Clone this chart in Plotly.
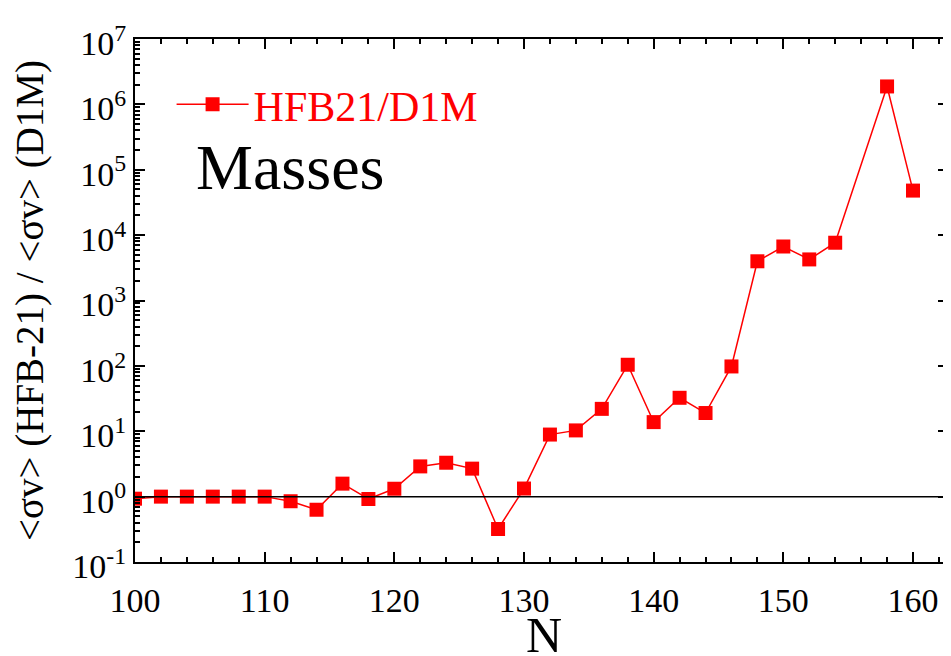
import plotly.graph_objects as go

# Data
N = [100, 102, 104, 106, 108, 110, 112, 114, 116, 118, 120, 122, 124, 126, 128,
     130, 132, 134, 136, 138, 140, 142, 144, 146, 148, 150, 152, 154, 158, 160]
ratio = [0.93, 1.0, 1.0, 1.0, 1.0, 1.0, 0.85, 0.63, 1.58, 0.92, 1.32, 2.9, 3.3, 2.68, 0.32,
         1.33, 8.9, 10.3, 22, 104, 13.8, 32.5, 19, 98, 3980, 6700, 4250, 7650, 1.88e6, 4.8e4]

x_ticks = [100, 110, 120, 130, 140, 150, 160]
y_exponents = [-1, 0, 1, 2, 3, 4, 5, 6, 7]
y_ticktext = ["10<sup>%d</sup>" % e for e in y_exponents]
y_tickvals = [10.0 ** e for e in y_exponents]
y_minor = [k * 10.0 ** e for e in range(-1, 7) for k in range(2, 10)]

FONT = "Liberation Serif, Times New Roman, serif"
RED = "#ff0000"

fig = go.Figure()
fig.add_trace(go.Scatter(
    x=N, y=ratio, mode="lines+markers", name="HFB21/D1M",
    line=dict(color=RED, width=1.5),
    marker=dict(symbol="square", size=14, color=RED),
))

fig.add_shape(type="line", xref="paper", yref="y", x0=0, x1=1, y0=1, y1=1,
              line=dict(color="black", width=1.5))

fig.add_annotation(text="Masses", xref="paper", yref="paper", x=0.072, y=0.755,
                   xanchor="left", yanchor="middle", showarrow=False,
                   font=dict(family=FONT, size=64, color="black"))

fig.add_annotation(text="N", xref="paper", yref="paper", x=0.503, y=-94 / 523,
                   xanchor="center", yanchor="bottom", yshift=-9, showarrow=False,
                   font=dict(family=FONT, size=50, color="black"))

# The page places the figure 8px from the top-left corner of the window,
# so the figure is 8px smaller and its margins are reduced accordingly.
fig.update_layout(
    width=943, height=648,
    margin=dict(l=127, r=3, t=31, b=94),
    paper_bgcolor="white", plot_bgcolor="white",
    font=dict(family=FONT, color="black", size=34),
    showlegend=True,
    legend=dict(x=0.045, y=0.875, xanchor="left", yanchor="middle",
                bgcolor="rgba(0,0,0,0)", itemwidth=72,
                font=dict(family=FONT, size=42, color=RED)),
)

fig.update_xaxes(
    automargin=False,
    range=[100, 162.7], tickvals=x_ticks, showgrid=False, zeroline=False,
    showline=True, linecolor="black", linewidth=2, mirror="ticks",
    ticks="inside", ticklen=10, tickwidth=1.5, tickcolor="black",
    minor=dict(dtick=2, tick0=100, ticks="inside", ticklen=5, tickwidth=1.5, tickcolor="black"),
    tickfont=dict(family=FONT, size=34), ticklabelstandoff=7,
)
fig.update_yaxes(
    automargin=False,
    type="log", range=[-1, 7], tickvals=y_tickvals, ticktext=y_ticktext,
    showgrid=False, zeroline=False,
    showline=True, linecolor="black", linewidth=2, mirror="ticks",
    ticks="inside", ticklen=10, tickwidth=1.5, tickcolor="black",
    minor=dict(tickvals=y_minor, ticks="inside", ticklen=5, tickwidth=1.5, tickcolor="black"),
    tickfont=dict(family=FONT, size=34), ticklabelshift=4,
    title=dict(text="&lt;σv&gt; (HFB-21) / &lt;σv&gt; (D1M)", font=dict(family=FONT, size=39), standoff=18),
)

fig.write_html("out.html")
